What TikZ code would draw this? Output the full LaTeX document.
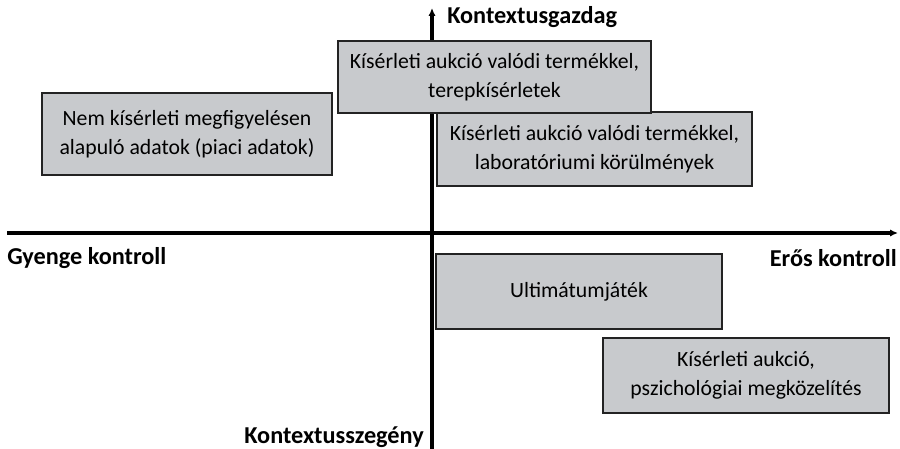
\documentclass[tikz,border=0pt]{standalone}
\usepackage{fontspec}
\setmainfont{Carlito}
\usetikzlibrary{arrows.meta}
\definecolor{boxgray}{RGB}{200,202,205}
\definecolor{boxline}{RGB}{35,35,35}

\begin{document}
\begin{tikzpicture}[
                            x=0.75pt, y=-0.75pt,
                            >={Latex[length=6pt,width=5.5pt]},
                            axis/.style={line width=2.3pt},
                            method/.style={draw=boxline, fill=boxgray, line width=1.3pt, align=center, inner sep=0pt, font=\fontsize{16.3}{21.5}\selectfont},
                            pole/.style={inner sep=0pt, font=\bfseries\fontsize{18.2}{21}\selectfont}
                            ]
                            \useasboundingbox (0,0) rectangle (900,449);

                            \coordinate (west) at (7,233);
                            \coordinate (east) at (898,233);
                            \coordinate (north) at (432,8);
                            \coordinate (south) at (432,449);
                            \draw[axis,->] (west) -- (east);
                            \draw[axis,->] (south) -- (north);

                            \node[pole, anchor=west] (rich) at (447,17) {Kontextusgazdag};
                            \node[pole, anchor=east] (poor) at (424,437) {Kontextusszegény};
                            \node[pole, anchor=west] (weak) at (7,258) {Gyenge kontroll};
                            \node[pole, anchor=east] (strong) at (897,258) {Erős kontroll};

                            \node[method, minimum width=217.5pt, minimum height=61.5pt] (field) at (187,134) {Nem kísérleti megfigyelésen\\alapuló adatok (piaci adatok)};
                            \node[method, minimum width=236.25pt, minimum height=55.5pt] (lab) at (594.5,149) {Kísérleti aukció valódi termékkel,\\laboratóriumi körülmények};
                            \node[method, minimum width=234.75pt, minimum height=54pt] (terrain) at (494.5,77) {Kísérleti aukció valódi termékkel,\\terepkísérletek};
                            \node[method, minimum width=214.5pt, minimum height=56.25pt] (ultimatum) at (579,291.5) {Ultimátumjáték};
                            \node[method, minimum width=214.5pt, minimum height=56.25pt] (psych) at (746,375.5) {Kísérleti aukció,\\pszichológiai megközelítés};
                        \end{tikzpicture}
\end{document}
